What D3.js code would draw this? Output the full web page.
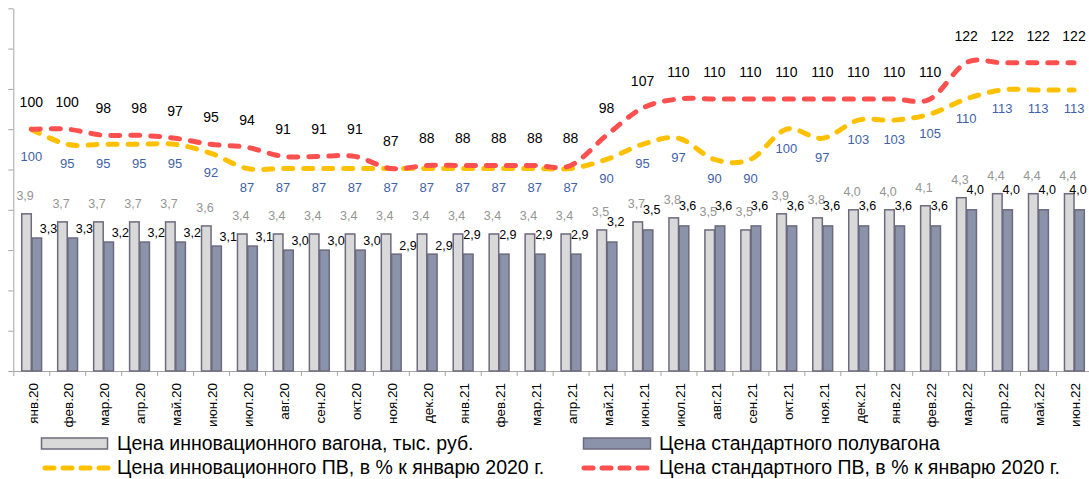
<!DOCTYPE html>
<html>
<head>
<meta charset="utf-8">
<script src="https://cdnjs.cloudflare.com/ajax/libs/d3/7.8.5/d3.min.js"></script>
<style>
  body { margin: 0; background: #fff; }
  text { font-family: "Liberation Sans", Arial, sans-serif; }
</style>
</head>
<body>
<div id="chart-area"></div>
<script>
const months = ['янв.20', 'фев.20', 'мар.20', 'апр.20', 'май.20', 'июн.20', 'июл.20', 'авг.20', 'сен.20', 'окт.20', 'ноя.20', 'дек.20',
    'янв.21', 'фев.21', 'мар.21', 'апр.21', 'май.21', 'июн.21', 'июл.21', 'авг.21', 'сен.21', 'окт.21', 'ноя.21', 'дек.21',
    'янв.22', 'фев.22', 'мар.22', 'апр.22', 'май.22', 'июн.22'];
const innovPrice = [3.9, 3.7, 3.7, 3.7, 3.7, 3.6, 3.4, 3.4, 3.4, 3.4, 3.4, 3.4, 3.4, 3.4, 3.4, 3.4, 3.5, 3.7, 3.8, 3.5, 3.5, 3.9, 3.8, 4.0, 4.0, 4.1, 4.3, 4.4, 4.4, 4.4];
const stdPrice = [3.3, 3.3, 3.2, 3.2, 3.2, 3.1, 3.1, 3.0, 3.0, 3.0, 2.9, 2.9, 2.9, 2.9, 2.9, 2.9, 3.2, 3.5, 3.6, 3.6, 3.6, 3.6, 3.6, 3.6, 3.6, 3.6, 4.0, 4.0, 4.0, 4.0];
const innovIndex = [100, 95, 95, 95, 95, 92, 87, 87, 87, 87, 87, 87, 87, 87, 87, 87, 90, 95, 97, 90, 90, 100, 97, 103, 103, 105, 110, 113, 113, 113];
const stdIndex = [100, 100, 98, 98, 97, 95, 94, 91, 91, 91, 87, 88, 88, 88, 88, 88, 98, 107, 110, 110, 110, 110, 110, 110, 110, 110, 122, 122, 122, 122];
const seriesNames = ['Цена инновационного вагона, тыс. руб.', 'Цена стандартного полувагона',
    'Цена инновационного ПВ, в % к январю 2020 г.', 'Цена стандартного ПВ, в % к январю 2020 г.'];

const width = 1089;
const height = 479;
const plotLeft = 13.3;
const plotRight = 1092;
const plotTop = 8.3;
const plotBottom = 371;

const innovFill = '#d9d9d9';
const stdFill = '#8b93ab';
const barStroke = '#6d6a7e';
const yellow = '#ffc000';
const red = '#ff5050';

let svg = d3.select('#chart-area').append('svg').attr('width', width).attr('height', height);

let x = d3.scaleBand().domain(months).range([plotLeft, plotRight]);
let xEdge = d3.scaleLinear().domain([0, months.length]).range([plotLeft, plotRight]);
let half = 10.3;

let y = d3.scaleLinear().domain([0, 9]).range([plotBottom, plotTop]);
let y2 = d3.scaleLinear().domain([20, 140]).range([plotBottom, plotTop]);

let data = months.map((m, i) => {
    return { month: m, i: i, innov: innovPrice[i], std: stdPrice[i], innovIdx: innovIndex[i], stdIdx: stdIndex[i] };
});
let cx = (d) => { return x(d.month) + x.bandwidth() / 2; };

// axes
svg.append('g')
    .attr('transform', `translate(${plotLeft},0)`)
    .call(d3.axisLeft(y).ticks(9).tickSize(5).tickSizeOuter(0).tickFormat(''));
svg.append('g')
    .attr('transform', `translate(0,${plotBottom})`)
    .call(d3.axisBottom(xEdge).tickValues(d3.range(0, months.length + 1)).tickSize(5).tickSizeOuter(0).tickFormat(''));
svg.selectAll('.domain, .tick line').attr('stroke', '#a6a6a6').attr('stroke-width', 1);

svg.append('g').selectAll('text').data(data).enter().append('text')
    .attr('transform', (d) => { return `translate(${cx(d) + 1.5},383) rotate(-90)`; })
    .attr('text-anchor', 'end')
    .attr('dy', '0.35em')
    .attr('font-size', 13.5)
    .attr('fill', '#000')
    .text((d) => { return d.month; });

// bars
let bars = svg.append('g');
bars.selectAll('rect.innov').data(data).enter().append('rect')
    .attr('class', 'innov')
    .attr('x', (d) => { return cx(d) - half + 0.75; })
    .attr('y', (d) => { return y(d.innov); })
    .attr('width', half - 0.75)
    .attr('height', (d) => { return plotBottom - y(d.innov); })
    .attr('fill', innovFill)
    .attr('stroke', barStroke)
    .attr('stroke-width', 1.5);
bars.selectAll('rect.std').data(data).enter().append('rect')
    .attr('class', 'std')
    .attr('x', (d) => { return cx(d) + 0.75; })
    .attr('y', (d) => { return y(d.std); })
    .attr('width', half - 0.75)
    .attr('height', (d) => { return plotBottom - y(d.std); })
    .attr('fill', stdFill)
    .attr('stroke', barStroke)
    .attr('stroke-width', 1.5);

let fmt = (v) => { return v.toFixed(1).replace('.', ','); };

svg.append('g').selectAll('text').data(data).enter().append('text')
    .attr('x', (d) => { return cx(d) - half / 2 - 1; })
    .attr('y', (d) => { return y(d.innov) - 18; })
    .attr('dy', '0.35em')
    .attr('text-anchor', 'middle')
    .attr('font-size', 12.5)
    .attr('fill', '#959595')
    .text((d) => { return fmt(d.innov); });

svg.append('g').selectAll('text').data(data).enter().append('text')
    .attr('x', (d) => { return Math.min(cx(d) + half / 2 + (d.i < 12 ? 12 : 4), width - 11); })
    .attr('y', (d) => { return y(d.std) - (d.i < 12 ? 9 : 20); })
    .attr('dy', '0.35em')
    .attr('text-anchor', 'middle')
    .attr('font-size', 12.5)
    .attr('fill', '#000')
    .text((d) => { return fmt(d.std); });

// lines
let lineInnov = d3.line().x(cx).y((d) => { return y2(d.innovIdx); }).curve(d3.curveCatmullRom.alpha(0));
let lineStd = d3.line().x(cx).y((d) => { return y2(d.stdIdx); }).curve(d3.curveCatmullRom.alpha(0));

svg.append('path').datum(data)
    .attr('d', lineInnov)
    .attr('fill', 'none')
    .attr('stroke', yellow)
    .attr('stroke-width', 5)
    .attr('stroke-linecap', 'round')
    .attr('stroke-dasharray', '9,11');
svg.append('path').datum(data)
    .attr('d', lineStd)
    .attr('fill', 'none')
    .attr('stroke', red)
    .attr('stroke-width', 5)
    .attr('stroke-linecap', 'round')
    .attr('stroke-dasharray', '9,11');

svg.append('g').selectAll('text').data(data).enter().append('text')
    .attr('x', cx)
    .attr('y', (d) => { return y2(d.innovIdx) + (d.i === 0 ? 27 : 19); })
    .attr('dy', '0.35em')
    .attr('text-anchor', 'middle')
    .attr('font-size', 13)
    .attr('fill', '#3f62a8')
    .text((d) => { return d.innovIdx; });

svg.append('g').selectAll('text').data(data).enter().append('text')
    .attr('x', cx)
    .attr('y', (d) => { return y2(d.stdIdx) - 27; })
    .attr('dy', '0.35em')
    .attr('text-anchor', 'middle')
    .attr('font-size', 14)
    .attr('fill', '#000')
    .text((d) => { return d.stdIdx; });

// legend
let legend = svg.append('g');
let legendPos = [[41, 443], [583, 443], [41, 467], [583, 467]];

legend.append('rect').attr('x', 41.5).attr('y', 438).attr('width', 66).attr('height', 11)
    .attr('fill', innovFill).attr('stroke', barStroke).attr('stroke-width', 1.5);
legend.append('rect').attr('x', 583.5).attr('y', 438).attr('width', 67).attr('height', 11)
    .attr('fill', stdFill).attr('stroke', barStroke).attr('stroke-width', 1.5);
legend.append('line').attr('x1', 45).attr('x2', 108).attr('y1', 468).attr('y2', 468)
    .attr('stroke', yellow).attr('stroke-width', 5).attr('stroke-linecap', 'round').attr('stroke-dasharray', '9,9');
legend.append('line').attr('x1', 584).attr('x2', 649).attr('y1', 468).attr('y2', 468)
    .attr('stroke', red).attr('stroke-width', 5).attr('stroke-linecap', 'round').attr('stroke-dasharray', '9,9');

legend.selectAll('text').data(seriesNames).enter().append('text')
    .attr('x', (d, i) => { return legendPos[i][0] + 76; })
    .attr('y', (d, i) => { return legendPos[i][1]; })
    .attr('dy', '0.35em')
    .attr('font-size', 19.5)
    .attr('fill', '#000')
    .text((d) => { return d; });
</script>
</body>
</html>
